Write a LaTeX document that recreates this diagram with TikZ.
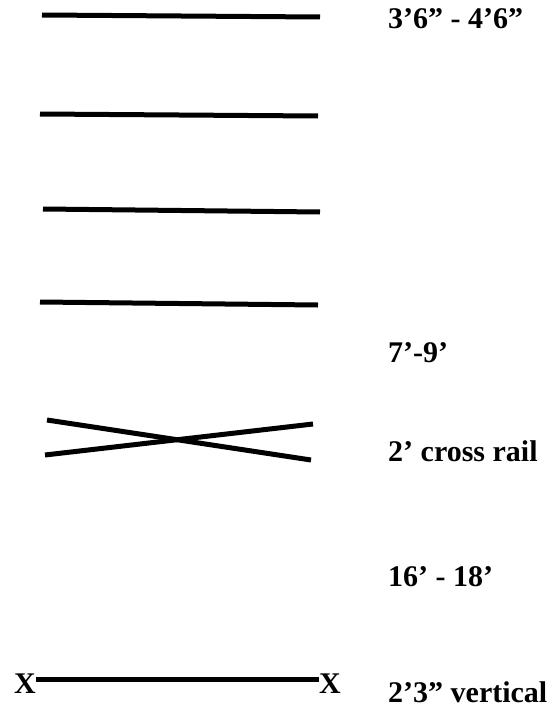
\documentclass[tikz,border=0pt]{standalone}
\usepackage{fontspec}
\setmainfont{Liberation Serif}
\begin{document}
\begin{tikzpicture}[x=1pt,y=-1pt,
  rail/.style={line width=5pt},
  lbl/.style={anchor=west,inner sep=0pt,font=\bfseries\fontsize{30}{34}\selectfont}]
\useasboundingbox (0,0) rectangle (553,717);
\coordinate (a1) at (42,15); \coordinate (b1) at (320,17);
\coordinate (a2) at (40,114); \coordinate (b2) at (318,116);
\coordinate (a3) at (43,209); \coordinate (b3) at (320,212);
\coordinate (a4) at (40,302); \coordinate (b4) at (318,305);
\coordinate (c1) at (47,420); \coordinate (d1) at (311,460);
\coordinate (c2) at (45,455); \coordinate (d2) at (313,424);
\draw[rail] (a1) -- (b1);
\draw[rail] (a2) -- (b2);
\draw[rail] (a3) -- (b3);
\draw[rail] (a4) -- (b4);
\draw[rail] (c1) -- (d1);
\draw[rail] (c2) -- (d2);
\node[lbl,anchor=center] (x1) at (25,684) {X};
\node[lbl,anchor=center] (x2) at (330,684) {X};
\coordinate (e1) at ([yshift=5pt]x1.east);
\coordinate (e2) at ([yshift=5pt]x2.west);
\draw[rail] (e1) -- (e2);
\node[lbl] (t1) at (388,19) {3’6” - 4’6”};
\node[lbl] (t2) at (388,353) {7’-9’};
\node[lbl] (t3) at (388,451) {2’ cross rail};
\node[lbl] (t4) at (388,577) {16’ - 18’};
\node[lbl] (t5) at (388,692) {2’3” vertical};
\end{tikzpicture}
\end{document}
